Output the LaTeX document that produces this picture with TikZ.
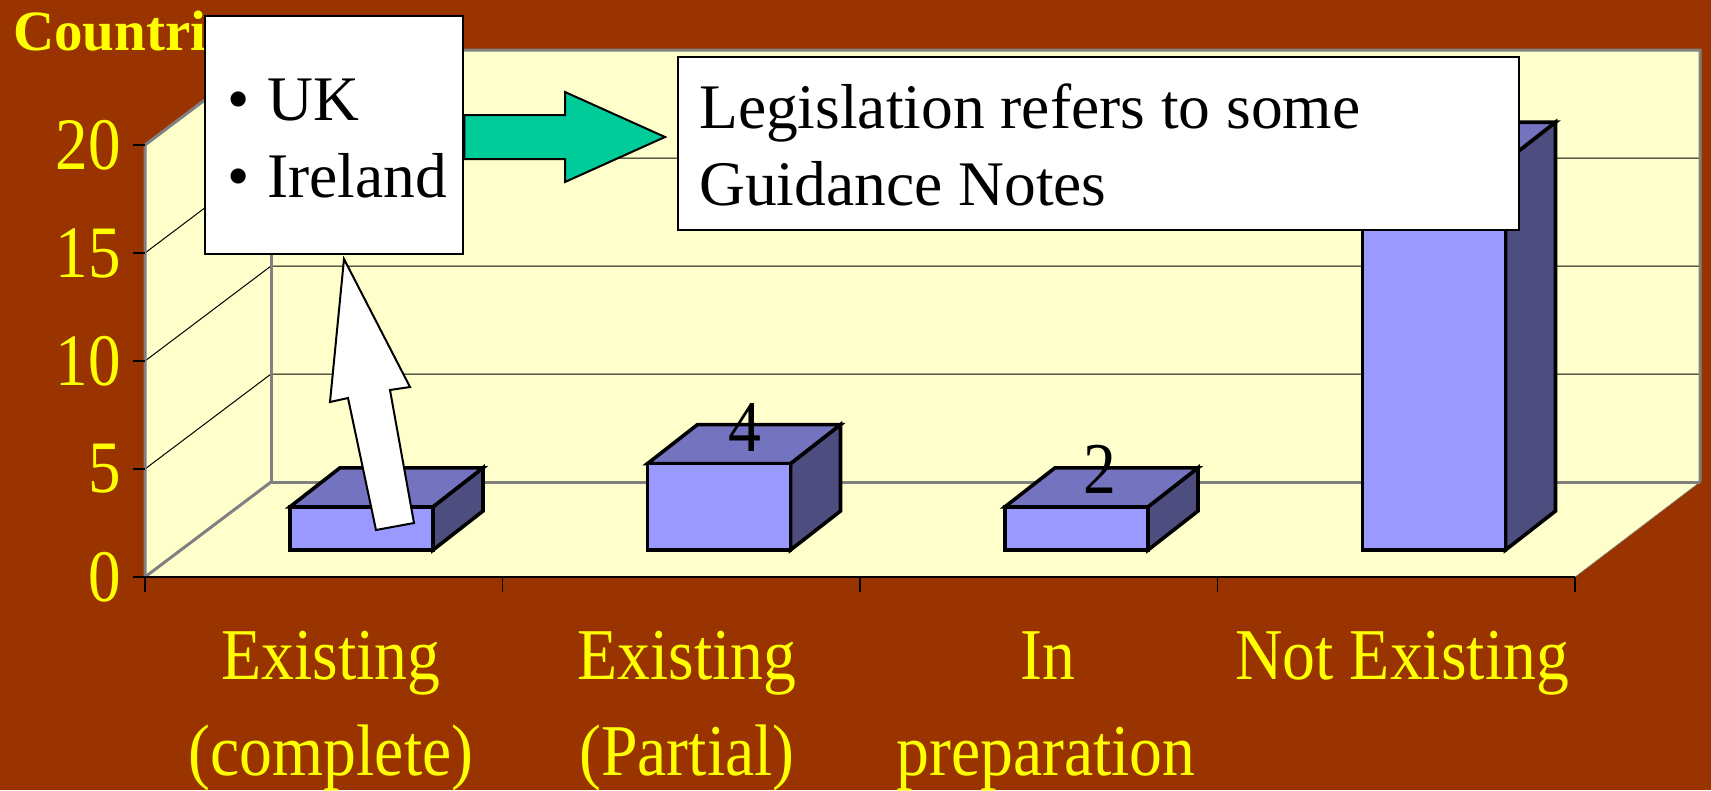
\documentclass[tikz,border=0pt]{standalone}
\usepackage{fontspec}
\setmainfont{Liberation Serif}
\usepackage{graphicx}
\definecolor{bg}{HTML}{993300}
\definecolor{wall}{HTML}{FFFFCC}
\definecolor{barfront}{HTML}{9999FF}
\definecolor{bartop}{HTML}{7373BF}
\definecolor{barside}{HTML}{4D4D80}
\definecolor{edgegray}{HTML}{808080}
\definecolor{arrowgreen}{HTML}{00CC99}
\definecolor{ylw}{HTML}{FFFF00}
\newcommand\condtxt[2]{\scalebox{#1}[1]{#2}}
\tikzset{
 axislabel/.style={text=ylw, inner sep=0pt, anchor=east, font=\fontsize{74}{80}\selectfont},
 catlabel/.style={text=ylw, inner sep=0pt, anchor=base, font=\fontsize{73}{80}\selectfont},
 datalabel/.style={text=black, inner sep=0pt, anchor=base, font=\fontsize{73}{80}\selectfont},
 calloutbox/.style={draw=black, fill=white, line width=2.5pt, inner sep=0pt},
 callouttext/.style={text=black, inner sep=0pt, anchor=base west, font=\fontsize{63.5}{77}\selectfont},
 blockarrow/.style={draw=black, line width=2pt, line join=miter},
 wallfill/.style={fill=wall, draw=none},
 edgeline/.style={draw=edgegray, line width=3pt},
 gridline/.style={draw=black, line width=1pt},
 tickline/.style={draw=black, line width=1.5pt},
 barface/.style={draw=black, line width=3.6pt, line join=miter},
}
\begin{document}
\begin{tikzpicture}[x=1pt,y=-1pt]
\useasboundingbox (0,0) rectangle (1711,790);
\fill[bg] (0,0) rectangle (1711,790);
% walls and floor
\fill[wallfill] (145,145) -- (271,50) -- (271,482) -- (145,577) -- cycle;
\fill[wallfill] (271,50) rectangle (1700,482);
\fill[wallfill] (145,577) -- (271,482) -- (1700,482) -- (1575,577) -- cycle;
% grid lines
\foreach \v in {5,10,15} {
  \draw[gridline] (145,577-21.6*\v) -- (271,482-21.6*\v) -- (1700,482-21.6*\v);
}
% edges
\draw[edgeline] (145,577) -- (145,145) -- (271,50) -- (1700,50) -- (1700,482);
\draw[edgeline] (271,50) -- (271,482) -- (1700,482);
\draw[edgeline] (145,577) -- (271,482);
\draw[draw=edgegray, line width=0.6pt] (1575,577) -- (1700,482);
\draw[draw=black, line width=1.5pt] (145,577) -- (1575,577);
% ticks
\foreach \v in {0,5,10,15,20} {
  \draw[tickline] (133,577-21.6*\v) -- (145,577-21.6*\v);
}
\foreach \xx in {145,502.5,860,1217.5,1575} {
  \draw[tickline] (\xx,577) -- (\xx,592);
}
% y labels
\node[axislabel] (y0) at (121,577) {\condtxt{0.88}{0}};
\node[axislabel] (y5) at (121,469) {\condtxt{0.88}{5}};
\node[axislabel] (y10) at (121,361) {\condtxt{0.88}{10}};
\node[axislabel] (y15) at (121,253) {\condtxt{0.88}{15}};
\node[axislabel] (y20) at (121,145) {\condtxt{0.88}{20}};
% bars
\foreach \x/\v in {290/2, 647.5/4, 1005/2, 1362.5/18} {
  \pgfmathsetmacro\yt{550-21.6*\v}
  \filldraw[barface, fill=barside] (\x+143,550) -- (\x+143,\yt) -- (\x+193,\yt-39) -- (\x+193,511) -- cycle;
  \filldraw[barface, fill=bartop] (\x,\yt) -- (\x+143,\yt) -- (\x+193,\yt-39) -- (\x+50,\yt-39) -- cycle;
  \filldraw[barface, fill=barfront] (\x,550) rectangle (\x+143,\yt);
}
% data labels
\node[datalabel] (d2) at (745,451) {\condtxt{0.9}{4}};
\node[datalabel] (d3) at (1100,493) {\condtxt{0.9}{2}};
% category labels
\node[catlabel] (c1a) at (331,679) {\condtxt{0.9}{Existing}};
\node[catlabel] (c1b) at (331,775) {\condtxt{0.9}{(complete)}};
\node[catlabel] (c2a) at (687,679) {\condtxt{0.9}{Existing}};
\node[catlabel] (c2b) at (687,775) {\condtxt{0.9}{(Partial)}};
\node[catlabel] (c3a) at (1048,679) {\condtxt{0.9}{In}};
\node[catlabel] (c3b) at (1046,775) {\condtxt{0.9}{preparation}};
\node[catlabel] (c4a) at (1402,679) {\condtxt{0.9}{Not Existing}};
% title
\node[text=ylw, inner sep=0pt, anchor=base west, font=\fontsize{57}{60}\selectfont\bfseries] (title) at (13,50) {Countri};
% white arrow
\draw[blockarrow, fill=white] (344,259) -- (410,387) -- (390,390) -- (414,523) -- (376,530) -- (348,398) -- (330,402) -- cycle;
% UK box
\node[calloutbox, minimum width=258pt, minimum height=238pt] (ukbox) at (334,135) {};
\node[callouttext] (bul1) at (227,120) {•};
\node[callouttext] (uk) at (267,120) {UK};
\node[callouttext] (bul2) at (227,197) {•};
\node[callouttext] (ie) at (267,197) {Ireland};
% green arrow
\draw[blockarrow, fill=arrowgreen] (ukbox.east |- 0,115) -- (565,115) -- (565,92) -- (665,137) -- (565,182) -- (565,159) -- (ukbox.east |- 0,159) -- cycle;
% legislation box
\node[calloutbox, minimum width=841pt, minimum height=173pt] (legbox) at (1098.5,143.5) {};
\node[callouttext] (leg1) at (699,128) {Legislation refers to some};
\node[callouttext] (leg2) at (699,205) {Guidance Notes};
\end{tikzpicture}
\end{document}
